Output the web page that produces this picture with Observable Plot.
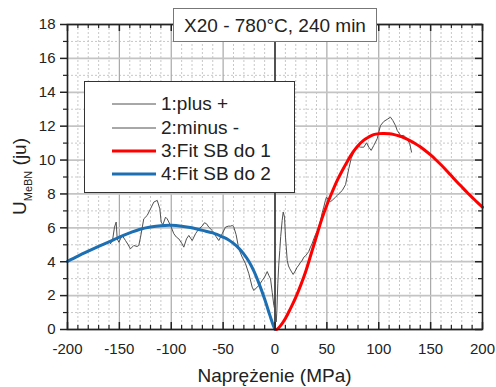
<!DOCTYPE html>
<html><head><meta charset="utf-8">
<script src="https://cdn.jsdelivr.net/npm/d3@7"></script>
<script src="https://cdn.jsdelivr.net/npm/@observablehq/plot@0.6"></script>
<style>
body{margin:0;background:#fff;font-family:"Liberation Sans",Arial,sans-serif;color:#222;}
#wrap{position:relative;width:496px;height:387px;}
#title{position:absolute;left:173px;top:8px;width:202px;height:32px;border:1px solid #777;background:#fff;font-size:19px;line-height:33px;text-align:center;white-space:nowrap;}
#legend{position:absolute;left:84px;top:81px;width:209px;height:110px;border:1px solid #333;background:#fff;}
.row{position:absolute;left:0;height:24px;width:209px;}
.row svg{position:absolute;left:27px;top:0;}
.row span{position:absolute;left:76px;top:0;line-height:24px;font-size:19px;white-space:nowrap;}
</style></head>
<body>
<div id="wrap"></div>
<script>
// ---- data ----
const xTicks = [-200, -150, -100, -50, 0, 50, 100, 150, 200];
const xMinor = [-190,-180,-170,-160,-140,-130,-120,-110,-90,-80,-70,-60,-40,-30,-20,-10,10,20,30,40,60,70,80,90,110,120,130,140,160,170,180,190];
const yTicks = [0, 2, 4, 6, 8, 10, 12, 14, 16, 18];
const yMinor = [1, 3, 5, 7, 9, 11, 13, 15, 17];
const titleText = "X20 - 780°C, 240 min";
const xLabel = "Naprężenie (MPa)";
const legendLabels = ["1:plus +", "2:minus -", "3:Fit SB do 1", "4:Fit SB do 2"];

const plusSeries = [[0,1.3],[0.6,0.7],[1.2,0.45],[1.8,1.1],[2.7,2.7],[3.6,3.8],[4.6,4.66],[5.5,5.5],[6.9,6.43],[7.9,6.93],[9.2,6.63],[10.1,5.45],[11.8,4.07],[13,3.75],[14.3,3.58],[16,3.4],[17.5,3.25],[19.5,3.45],[21.4,3.68],[23,3.8],[24.6,3.97],[26,4.05],[27.8,4.27],[29.5,4.35],[31,4.47],[32.5,4.6],[34.2,4.86],[36,5.1],[37.4,5.35],[39,5.6],[40.7,5.84],[42.3,6.1],[43.9,6.43],[45.5,6.9],[47,7.22],[48.5,7.6],[49.6,7.81],[51.9,7.62],[53.5,7.55],[55.1,7.62],[58.3,7.81],[60,7.91],[61.5,8.01],[64.8,8.2],[68,8.55],[71.1,9.49],[73.4,10.08],[76,10.47],[78.6,10.82],[80.5,10.8],[82.4,10.76],[85.6,10.76],[88.2,11.02],[90.4,10.76],[92.7,10.57],[95.2,10.86],[98.5,11.26],[100,11.65],[101.7,12.04],[104.9,12.28],[108.1,12.4],[111.3,12.53],[113.5,12.34],[116.1,12.04],[117.8,11.75],[121,11.45],[124.1,11.45],[127.4,11.26],[129.9,10.96],[131.6,10.47]];

const minusSeries = [[-158.6,5.06],[-156.5,5.3],[-154.7,6.04],[-153.1,6.34],[-152.1,5.35],[-150.5,5.15],[-147.3,5.55],[-144.1,5.25],[-141.5,5.0],[-139.3,4.76],[-136.1,4.96],[-133,4.9],[-131.3,4.96],[-129.6,5.45],[-126.5,6.53],[-123.2,6.73],[-120,7.12],[-116.8,7.52],[-113.5,7.62],[-111,7.12],[-109.7,6.34],[-108.1,6.18],[-105.5,6.63],[-103.9,6.53],[-100.7,6.14],[-97.5,5.65],[-95,5.45],[-92.7,5.35],[-90,5.1],[-87.9,4.86],[-85.3,5.35],[-83.1,5.55],[-79.8,5.25],[-76.6,5.65],[-73.4,5.94],[-70.2,6.1],[-68,6.3],[-66,6.24],[-63.8,6.04],[-60.5,5.84],[-57,5.5],[-54.2,5.25],[-50.9,5.65],[-47.7,6.04],[-45,6.1],[-42.9,6.1],[-41,6.14],[-39.7,6.04],[-37.5,5.6],[-34.9,4.76],[-31.6,4.27],[-28.4,3.88],[-25.2,3.29],[-22,2.5],[-20.4,2.3],[-18,2.45],[-15.6,2.6],[-12.3,2.89],[-10,3.1],[-7.5,3.42],[-6,3.2],[-4.3,2.99],[-2.7,2.2],[-1.1,1.42],[-0.3,1.2]];

const fitPlus = [[1,0],[2,0.02],[5,0.2],[10,0.65],[15,1.25],[20,1.9],[25,2.65],[30,3.5],[35,4.5],[40,5.5],[45,6.5],[50,7.35],[55,8.1],[60,8.8],[65,9.4],[70,9.95],[75,10.45],[80,10.85],[85,11.15],[90,11.35],[95,11.5],[100,11.56],[105,11.57],[110,11.55],[115,11.5],[120,11.42],[125,11.3],[130,11.15],[135,10.98],[140,10.78],[145,10.55],[150,10.3],[155,10.02],[160,9.72],[165,9.4],[170,9.07],[175,8.74],[180,8.42],[185,8.1],[190,7.8],[195,7.5],[200,7.22]];

const fitMinus = [[-200,4.02],[-190,4.33],[-180,4.62],[-170,4.9],[-160,5.17],[-150,5.45],[-140,5.7],[-130,5.92],[-120,6.05],[-110,6.13],[-100,6.15],[-90,6.1],[-80,6.0],[-70,5.85],[-60,5.7],[-50,5.45],[-45,5.3],[-40,5.08],[-35,4.8],[-30,4.45],[-25,4.0],[-20,3.4],[-15,2.65],[-10,1.8],[-5,0.85],[-2,0.3],[0,0]];

// ---- styles ----
const C = {noisy:"#505050", red:"#ff0000", blue:"#1c6fb2", axis:"#222"};
const W = 496, H = 387, mL = 67, mR = 14, mT = 24, mB = 58;
const iw = W - mL - mR, ih = H - mT - mB;
const bigT = 7, smallT = 4;

const chart = Plot.plot({
  width: W, height: H,
  marginLeft: mL, marginRight: mR, marginTop: mT, marginBottom: mB,
  style: {fontFamily: "Liberation Sans, Arial, sans-serif", fontSize: "15px", color: "#222", background: "#fff"},
  x: {domain: [-200, 200], ticks: xTicks, tickSize: 0, tickPadding: 14, tickFormat: d => String(d), label: null},
  y: {domain: [0, 18], ticks: yTicks, tickSize: 0, tickPadding: 12, tickFormat: d => String(d), label: null},
  marks: [
    Plot.ruleX(xMinor, {x: d => d, stroke: "#c8c8c8", strokeDasharray: "2,2", strokeWidth: 1}),
    Plot.ruleY(yMinor, {y: d => d, stroke: "#c8c8c8", strokeDasharray: "2,2", strokeWidth: 1}),
    Plot.ruleX(xTicks, {x: d => d, stroke: "#a8a8a8", strokeWidth: 1.2}),
    Plot.ruleY(yTicks, {y: d => d, stroke: "#c4c4c4", strokeWidth: 1.8}),
    Plot.ruleX([0], {x: d => d, stroke: "#000", strokeWidth: 1.2}),
    Plot.line(minusSeries, {x: d => d[0], y: d => d[1], stroke: C.noisy, strokeWidth: 1}),
    Plot.line(plusSeries, {x: d => d[0], y: d => d[1], stroke: C.noisy, strokeWidth: 1}),
    Plot.line(fitMinus, {x: d => d[0], y: d => d[1], stroke: C.blue, strokeWidth: 3, curve: "catmull-rom"}),
    Plot.line(fitPlus, {x: d => d[0], y: d => d[1], stroke: C.red, strokeWidth: 3, curve: "catmull-rom"}),
    // ticks: bottom & top inward
    Plot.tickX(xTicks, {x: d => d, insetTop: ih - bigT, stroke: C.axis, strokeWidth: 1.5}),
    Plot.tickX(xMinor, {x: d => d, insetTop: ih - smallT, stroke: C.axis, strokeWidth: 1.2}),
    Plot.tickX(xTicks, {x: d => d, insetBottom: ih - bigT, stroke: C.axis, strokeWidth: 1.5}),
    Plot.tickX(xMinor, {x: d => d, insetBottom: ih - smallT, stroke: C.axis, strokeWidth: 1.2}),
    // left outward, right inward
    Plot.tickY(yTicks, {y: d => d, insetRight: iw - bigT, dx: -bigT, stroke: C.axis, strokeWidth: 1.5}),
    Plot.tickY(yMinor, {y: d => d, insetRight: iw - smallT, dx: -smallT, stroke: C.axis, strokeWidth: 1.2}),
    Plot.tickY(yTicks, {y: d => d, insetLeft: iw - bigT, stroke: C.axis, strokeWidth: 1.5}),
    Plot.tickY(yMinor, {y: d => d, insetLeft: iw - smallT, stroke: C.axis, strokeWidth: 1.2}),
    Plot.frame({stroke: C.axis, strokeWidth: 1.6})
  ]
});

const wrap = document.getElementById("wrap");
wrap.appendChild(chart);

const svg = d3.select(chart);
svg.append("text")
  .attr("x", mL + iw / 2).attr("y", 382)
  .attr("text-anchor", "middle").attr("font-size", 19).attr("fill", "#222")
  .text(xLabel);
const yl = svg.append("text")
  .attr("transform", `translate(26,${mT + ih / 2}) rotate(-90)`)
  .attr("text-anchor", "middle").attr("font-size", 19).attr("fill", "#222");
yl.append("tspan").text("U");
yl.append("tspan").attr("font-size", 11).attr("dy", 6).text("MeBN");
yl.append("tspan").attr("dy", -6).text(" (ju)");

// title box
const tdiv = document.createElement("div");
tdiv.id = "title";
tdiv.textContent = titleText;
wrap.appendChild(tdiv);

// legend
const lg = document.createElement("div");
lg.id = "legend";
const styles = [
  {stroke: C.noisy, w: 1}, {stroke: C.noisy, w: 1}, {stroke: C.red, w: 3}, {stroke: C.blue, w: 3}
];
const rowCenters = [22, 45.5, 69, 92];
legendLabels.forEach((lab, i) => {
  const r = document.createElement("div");
  r.className = "row";
  r.style.top = (rowCenters[i] - 12) + "px";
  r.innerHTML = `<svg width="46" height="24"><line x1="0" x2="44" y1="12" y2="12" stroke="${styles[i].stroke}" stroke-width="${styles[i].w}"/></svg><span>${lab}</span>`;
  lg.appendChild(r);
});
wrap.appendChild(lg);
</script>
</body></html>
